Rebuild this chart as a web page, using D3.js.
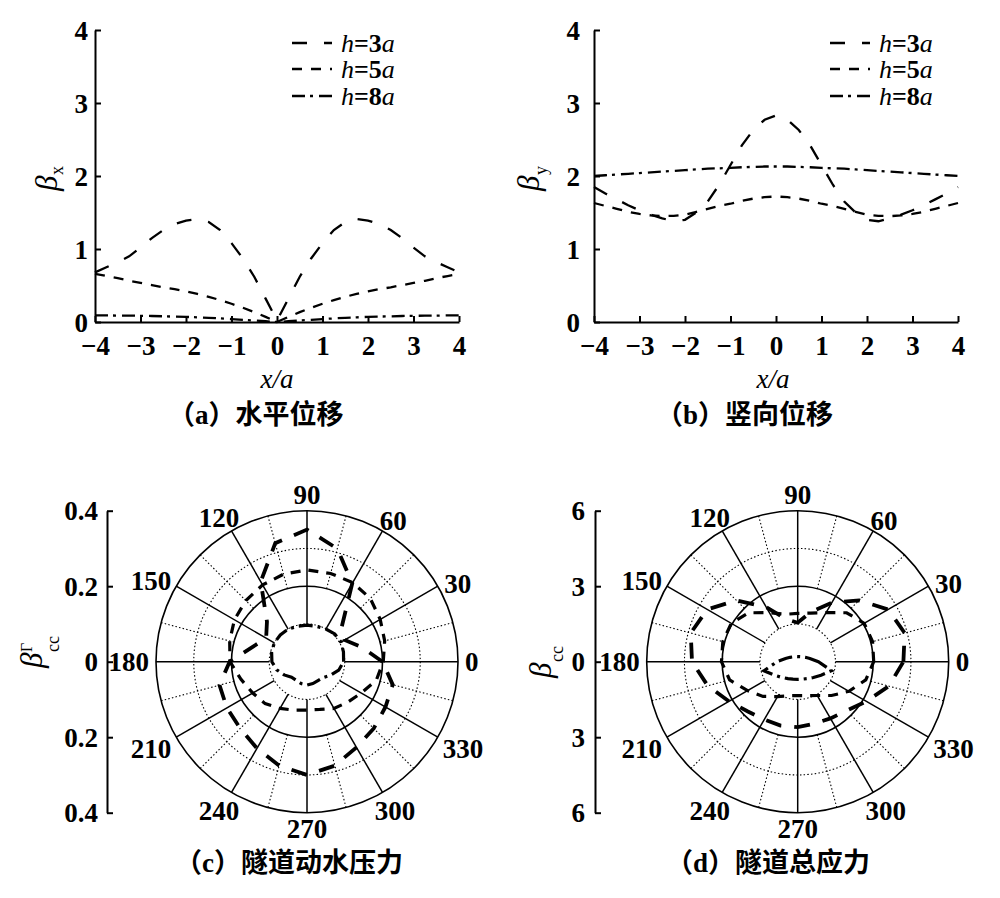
<!DOCTYPE html>
<html><head><meta charset="utf-8">
<script src="https://cdn.jsdelivr.net/npm/d3@7"></script>
<style>body{margin:0;background:#fff} svg{display:block;background:#fff}</style>
</head><body>
<svg id="chart" width="1000" height="898"></svg>
<script>
// ---------------- data ----------------
const xPos = [-4,-3.75,-3.5,-3.25,-3,-2.75,-2.5,-2.25,-2,-1.75,-1.5,-1.25,-1,-0.75,-0.5,-0.25,0,0.25,0.5,0.75,1,1.25,1.5,1.75,2,2.25,2.5,2.75,3,3.25,3.5,3.75,4];
const xTicks = [-4,-3,-2,-1,0,1,2,3,4];
const yTicks = [0,1,2,3,4];
const seriesNames = ["3","5","8"]; // h = n a

// (a) horizontal displacement beta_x
const aH3 = [0.68,0.75,0.82,0.90,1.02,1.15,1.26,1.34,1.39,1.41,1.37,1.26,1.08,0.87,0.62,0.32,0.02,0.32,0.62,0.87,1.08,1.26,1.37,1.41,1.39,1.34,1.26,1.15,1.02,0.90,0.82,0.75,0.68];
const aH5 = [0.66,0.63,0.60,0.565,0.535,0.505,0.475,0.45,0.42,0.385,0.345,0.30,0.25,0.195,0.135,0.07,0.0,0.07,0.135,0.195,0.25,0.30,0.345,0.385,0.42,0.45,0.475,0.505,0.535,0.565,0.60,0.63,0.66];
const aH8 = [0.09,0.09,0.088,0.087,0.085,0.082,0.078,0.074,0.07,0.064,0.057,0.049,0.04,0.03,0.02,0.01,0.0,0.01,0.02,0.03,0.04,0.049,0.057,0.064,0.07,0.074,0.078,0.082,0.085,0.087,0.088,0.09,0.09];

// (b) vertical displacement beta_y
const bH3 = [1.85,1.76,1.68,1.60,1.53,1.47,1.42,1.38,1.40,1.50,1.65,1.88,2.15,2.42,2.63,2.77,2.83,2.77,2.63,2.42,2.15,1.88,1.65,1.50,1.40,1.38,1.42,1.47,1.53,1.60,1.68,1.76,1.85];
const bH5 = [1.63,1.59,1.55,1.51,1.48,1.46,1.45,1.455,1.47,1.51,1.55,1.59,1.62,1.66,1.69,1.71,1.72,1.71,1.69,1.66,1.62,1.59,1.55,1.51,1.47,1.455,1.45,1.46,1.48,1.51,1.55,1.59,1.63];
const bH8 = [2.00,2.01,2.02,2.03,2.04,2.05,2.06,2.07,2.08,2.09,2.10,2.105,2.11,2.12,2.125,2.13,2.13,2.13,2.125,2.12,2.11,2.105,2.10,2.09,2.08,2.07,2.06,2.05,2.04,2.03,2.02,2.01,2.00];

// polar angles (deg)
const angles = [0,15,30,45,60,75,90,105,120,135,150,165,180,195,210,225,240,255,270,285,300,315,330,345];
const angleTicks = [0,30,60,90,120,150,180,210,240,270,300,330];

// (c) tunnel hydrodynamic pressure
const cH3 = [0.20,0.15,0.115,0.13,0.24,0.31,0.35,0.325,0.245,0.15,0.125,0.15,0.205,0.24,0.245,0.25,0.265,0.285,0.30,0.285,0.262,0.25,0.24,0.235];
const cH5 = [0.202,0.213,0.224,0.237,0.242,0.242,0.243,0.24,0.235,0.229,0.222,0.212,0.204,0.181,0.166,0.157,0.143,0.133,0.128,0.131,0.143,0.152,0.166,0.19];
const cH8 = [0.097,0.10,0.104,0.104,0.10,0.097,0.097,0.097,0.10,0.10,0.10,0.097,0.093,0.083,0.07,0.058,0.057,0.06,0.062,0.06,0.058,0.06,0.072,0.087];
const cRings = [0.1,0.2,0.3,0.4];
const cRadTicks = [-0.4,-0.2,0,0.2,0.4];

// (d) tunnel total stress
const dH3 = [4.2,4.4,4.15,3.45,2.7,2.05,1.55,1.75,2.5,3.45,4.15,4.4,4.2,3.7,3.15,2.8,2.65,2.63,2.6,2.55,2.6,2.75,3.15,3.75];
const dH5 = [3.02,3.08,3.05,2.75,2.25,2.0,1.92,1.95,2.25,2.75,3.05,3.08,3.03,2.8,2.3,1.95,1.6,1.4,1.35,1.4,1.55,1.9,2.35,2.8];
const dH8 = [0.82,0.50,0.35,0.27,0.23,0.21,0.20,0.21,0.23,0.27,0.35,0.50,0.82,1.39,1.07,0.885,0.776,0.718,0.70,0.718,0.776,0.885,1.07,1.39];
const dRings = [1.5,3,4.5,6];
const dRadTicks = [-6,-3,0,3,6];

// ---------------- styles ----------------
const SERIF = '"Liberation Serif","Times New Roman",serif';
const CJK = '"Noto Sans CJK SC","Noto Sans CJK JP",sans-serif';
const lineDash = ["15,17","10,9","13,5,3,6"];
const polarDash = ["16,13","10,8","14,5,3,5"];
const polarW = [3.8,3.2,3.2];

const svg = d3.select("#chart");

function styleAxis(g){
  g.attr("font-family", SERIF).attr("font-size", 27).attr("font-weight","bold");
  g.selectAll("path,line").attr("stroke","#000").attr("stroke-width",2);
}

function yLabel(cx, cy, sup, sub, supDy, subDy){
  const g = svg.append("g").attr("transform",`translate(${cx},${cy}) rotate(-90)`)
    .attr("font-family", SERIF).attr("font-style","italic");
  g.append("text").attr("x",0).attr("y",0).attr("font-size",31).text("β");
  if (sup) g.append("text").attr("x",16).attr("y",supDy).attr("font-size",16).attr("font-style","normal").text(sup);
  if (sub) g.append("text").attr("x",16).attr("y",subDy).attr("font-size",18).attr("font-style","normal").text(sub);
}

function caption(x, y, letter, rest){
  const t = svg.append("text").attr("x",x).attr("y",y).attr("font-family",CJK)
    .attr("font-size",27).attr("font-weight","bold");
  t.append("tspan").text("（");
  t.append("tspan").attr("font-family",SERIF).text(letter);
  t.append("tspan").text("）" + rest);
}

function linePanel(opt){
  const x = d3.scaleLinear([-4,4],[opt.x0,opt.x1]);
  const y = d3.scaleLinear([0,4],[322,30]);
  const gx = svg.append("g").attr("transform","translate(0,322)")
    .call(d3.axisBottom(x).tickValues(xTicks).tickSize(-6).tickSizeOuter(0).tickPadding(14).tickFormat(d3.format("d")));
  styleAxis(gx);
  const gy = svg.append("g").attr("transform",`translate(${opt.x0},0)`)
    .call(d3.axisLeft(y).tickValues(yTicks).tickSize(-6).tickSizeOuter(0).tickPadding(opt.ypad).tickFormat(d3.format("d")));
  styleAxis(gy);
  gy.selectAll("text").attr("dy","0.34em");

  const line = d3.line().x((d,i)=>x(xPos[i])).y(d=>y(d));
  opt.series.forEach((s,k)=>{
    svg.append("path").attr("d",line(s)).attr("fill","none").attr("stroke","#000")
      .attr("stroke-width",2.3).attr("stroke-dasharray",lineDash[k]);
  });
  // legend
  const rowsY = [43,69,96];
  seriesNames.forEach((n,k)=>{
    svg.append("line").attr("x1",opt.legX).attr("x2",opt.legX+40).attr("y1",rowsY[k]).attr("y2",rowsY[k])
      .attr("stroke","#000").attr("stroke-width",2.3).attr("stroke-dasharray",lineDash[k]);
    const t = svg.append("text").attr("x",opt.legX+49).attr("y",rowsY[k]+9)
      .attr("font-family",SERIF).attr("font-size",26);
    t.append("tspan").attr("font-style","italic").text("h");
    t.append("tspan").attr("font-weight","bold").text("="+n);
    t.append("tspan").attr("font-style","italic").text("a");
  });
  // x label
  svg.append("text").attr("x",opt.xlab).attr("y",388).attr("text-anchor","middle")
    .attr("font-family",SERIF).attr("font-size",27).attr("font-style","italic").text("x/a");
}

function polarPanel(opt){
  const cx = opt.cx, cy = 661.7, R = 151;
  const rMax = opt.rings[3];
  const r = d3.scaleLinear([0,rMax],[0,R]);
  const g = svg.append("g").attr("transform",`translate(${cx},${cy})`);
  // rings
  opt.rings.forEach((v,i)=>{
    g.append("circle").attr("r",r(v)).attr("fill","none").attr("stroke","#000")
      .attr("stroke-width", i%2===1 ? 1.6 : 1.1)
      .attr("stroke-dasharray", i%2===1 ? null : "1.5,2.2");
  });
  // spokes
  angleTicks.forEach(a=>{
    const t = a*Math.PI/180;
    g.append("line").attr("x1",r(opt.rings[0])*Math.cos(t)).attr("y1",-r(opt.rings[0])*Math.sin(t))
      .attr("x2",R*Math.cos(t)).attr("y2",-R*Math.sin(t)).attr("stroke","#000").attr("stroke-width",1.5);
    const t2 = (a+15)*Math.PI/180;
    g.append("line").attr("x1",r(opt.rings[1])*Math.cos(t2)).attr("y1",-r(opt.rings[1])*Math.sin(t2))
      .attr("x2",R*Math.cos(t2)).attr("y2",-R*Math.sin(t2)).attr("stroke","#000").attr("stroke-width",1.1)
      .attr("stroke-dasharray","1.5,2.2");
  });
  // series
  const radial = d3.lineRadial().angle((d,i)=>(90-angles[i])*Math.PI/180).radius(d=>r(d)).curve(d3.curveLinearClosed);
  opt.series.forEach((s,k)=>{
    g.append("path").attr("d",radial(s)).attr("fill","none").attr("stroke","#000")
      .attr("stroke-width",polarW[k]).attr("stroke-dasharray",polarDash[k]);
  });
  // angle labels
  angleTicks.forEach(a=>{
    const t = svg.append("text").text(a).attr("font-family",SERIF).attr("font-size",27).attr("font-weight","bold")
      .attr("text-anchor","middle").attr("dominant-baseline","central");
    const w = t.node().getComputedTextLength();
    const th = a*Math.PI/180, c = Math.cos(th), s = Math.sin(th);
    const RR = R + 7 + (w/2)*Math.abs(c) + 9*Math.abs(s);
    let yy = cy - RR*s;
    if (s > 0.2 && Math.abs(c) > 0.2) yy += 9;
    else if (s < -0.2 && Math.abs(c) > 0.2) yy -= 3;
    t.attr("x", cx + RR*c).attr("y", yy);
  });
  // left radial scale axis
  const ys = d3.scaleLinear([-rMax,rMax],[cy+R,cy-R]);
  const ga = svg.append("g").attr("transform",`translate(${opt.axisX},0)`)
    .call(d3.axisLeft(ys).tickValues(opt.radTicks).tickSize(-6).tickSizeOuter(0).tickPadding(opt.apad)
      .tickFormat(d=> d===0 ? "0" : opt.fmt(Math.abs(d))));
  styleAxis(ga);
  ga.selectAll("text").attr("dy","0.34em");
}

// ---------------- draw ----------------
linePanel({x0:95, x1:459, ypad:7, series:[aH3,aH5,aH8], legX:292, xlab:277});
linePanel({x0:594, x1:958, ypad:14, series:[bH3,bH5,bH8], legX:830, xlab:773});
yLabel(57, 191, null, "x", 0, 6);
yLabel(539, 191, null, "y", 0, 8);
caption(168, 424, "a", "水平位移");
caption(656, 424, "b", "竖向位移");

polarPanel({cx:307, rings:cRings, series:[cH3,cH5,cH8], radTicks:cRadTicks, axisX:107, apad:9, fmt:d3.format(".1f")});
polarPanel({cx:797.7, rings:dRings, series:[dH3,dH5,dH8], radTicks:dRadTicks, axisX:595, apad:10, fmt:d3.format("d")});
yLabel(42, 668, "Γ", "cc", -10, 17);
yLabel(551, 678, null, "cc", 0, 12);
caption(175, 872, "c", "隧道动水压力");
caption(666, 872, "d", "隧道总应力");
</script>
</body></html>
